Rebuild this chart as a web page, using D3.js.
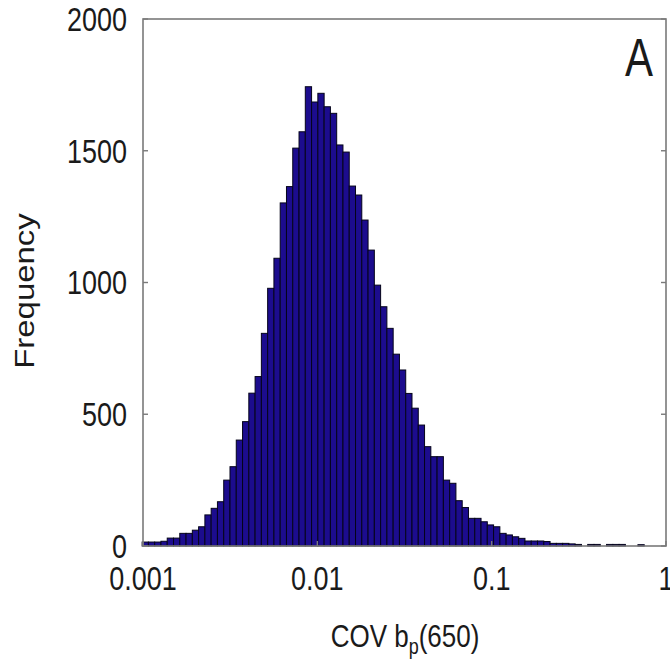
<!DOCTYPE html>
<html>
<head>
<meta charset="utf-8">
<script src="https://cdn.jsdelivr.net/npm/d3@7"></script>
<style>
  html, body { margin: 0; padding: 0; background: #fff; }
  svg { display: block; }
  .lbl { font-family: "Liberation Sans", Arial, sans-serif; fill: #1a1a1a; }
</style>
</head>
<body>
<div id="hist"></div>
<script>
// bin layout (log10 of COV), same width for every bin
const binStartLog = -3.005;
const binWidthLog = 0.036;

// counts per bin
const counts = [
  15, 15, 15, 18, 30, 30, 48, 48, 60, 73,
  118, 143, 168, 250, 301, 402, 472, 580, 643, 807,
  978, 1092, 1302, 1364, 1510, 1572, 1743, 1685, 1718, 1667,
  1642, 1522, 1495, 1366, 1332, 1237, 1123, 990, 908, 826,
  728, 668, 579, 523, 459, 377, 339, 339, 250, 238,
  172, 146, 105, 105, 92, 80, 73, 48, 42, 35,
  29, 19, 19, 19, 17, 10, 10, 10, 8, 6,
  0, 6, 6, 0, 6, 6, 6, 0, 0, 5,
  0, 0, 0, 0
];

const xTicks = [0.001, 0.01, 0.1, 1];
const xTickLabels = ["0.001", "0.01", "0.1", "1"];
const yTicks = [0, 500, 1000, 1500, 2000];

class Histogram {

  constructor(_config, _data) {
    this.config = {
      parentElement: _config.parentElement,
      containerWidth: _config.containerWidth || 670,
      containerHeight: _config.containerHeight || 669,
      margin: _config.margin || { top: 19, right: 4, bottom: 123, left: 143 },
      stretch: 1.22   // the original image is squeezed sideways
    };
    this.data = _data;
    this.initVis();
  }

  initVis() {
    let vis = this;
    const m = vis.config.margin;

    vis.width = vis.config.containerWidth - m.left - m.right;
    vis.height = vis.config.containerHeight - m.top - m.bottom;

    vis.svg = d3.select(vis.config.parentElement)
      .append("svg")
        .attr("width", vis.config.containerWidth)
        .attr("height", vis.config.containerHeight);

    vis.x = d3.scaleLog()
      .domain([0.001, 1])
      .range([m.left, m.left + vis.width]);

    vis.y = d3.scaleLinear()
      .domain([0, 2000])
      .range([m.top + vis.height, m.top]);

    vis.renderVis();
  }

  renderVis() {
    let vis = this;
    const s = vis.config.stretch;
    const [x0, x1] = vis.x.range();
    const [y0, y1] = vis.y.range();

    // bars
    vis.svg.append("g")
      .selectAll("rect")
      .data(vis.data.filter(d => d.count > 0))
      .join("rect")
        .attr("x", d => vis.x(d.lo))
        .attr("width", d => vis.x(d.hi) - vis.x(d.lo))
        .attr("y", d => vis.y(d.count))
        .attr("height", d => vis.y(0) - vis.y(d.count))
        .attr("fill", "#1c0c8e")
        .attr("stroke", "#05041a")
        .attr("stroke-width", 1);

    // frame
    vis.svg.append("rect")
      .attr("x", x0).attr("y", y1)
      .attr("width", x1 - x0).attr("height", y0 - y1)
      .attr("fill", "none")
      .attr("stroke", "#7a7a7a")
      .attr("stroke-width", 1.6);

    // y ticks, both sides, pointing inward
    const yt = vis.svg.append("g");
    yTicks.forEach(t => {
      yt.append("line").attr("x1", x0).attr("x2", x0 + 5)
        .attr("y1", vis.y(t)).attr("y2", vis.y(t))
        .attr("stroke", "#7a7a7a").attr("stroke-width", 1.4);
      yt.append("line").attr("x1", x1).attr("x2", x1 - 5)
        .attr("y1", vis.y(t)).attr("y2", vis.y(t))
        .attr("stroke", "#7a7a7a").attr("stroke-width", 1.4);
      yt.append("text")
        .attr("class", "lbl")
        .attr("transform", `translate(127,${vis.y(t)}) scale(1,${s})`)
        .attr("text-anchor", "end")
        .attr("dy", "0.36em")
        .attr("font-size", 27)
        .text(t);
    });

    // x ticks and labels
    const xt = vis.svg.append("g");
    xTicks.forEach((t, i) => {
      xt.append("line").attr("x1", vis.x(t)).attr("x2", vis.x(t))
        .attr("y1", y0).attr("y2", y0 - 5)
        .attr("stroke", "#7a7a7a").attr("stroke-width", 1.4);
      xt.append("text")
        .attr("class", "lbl")
        .attr("transform", `translate(${vis.x(t)},590) scale(1,${s})`)
        .attr("text-anchor", "middle")
        .attr("font-size", 27)
        .text(xTickLabels[i]);
    });

    // axis titles
    const xl = vis.svg.append("text")
      .attr("class", "lbl")
      .attr("transform", `translate(405,647) scale(1,${s})`)
      .attr("text-anchor", "middle")
      .attr("font-size", 26);
    xl.append("tspan").text("COV b");
    xl.append("tspan").attr("font-size", 18).attr("dy", 6).text("p");
    xl.append("tspan").attr("dy", -6).text("(650)");

    vis.svg.append("text")
      .attr("class", "lbl")
      .attr("transform", `translate(34,291) rotate(-90) scale(${s},1)`)
      .attr("text-anchor", "middle")
      .attr("font-size", 27)
      .text("Frequency");

    // panel letter
    vis.svg.append("text")
      .attr("class", "lbl")
      .attr("transform", `translate(625,76) scale(1,1.26)`)
      .attr("font-size", 42)
      .text("A");
  }
}

const bins = counts.map((c, i) => ({
  lo: Math.pow(10, binStartLog + i * binWidthLog),
  hi: Math.pow(10, binStartLog + (i + 1) * binWidthLog),
  count: c
}));

const hist = new Histogram({ parentElement: "#hist" }, bins);
</script>
</body>
</html>
